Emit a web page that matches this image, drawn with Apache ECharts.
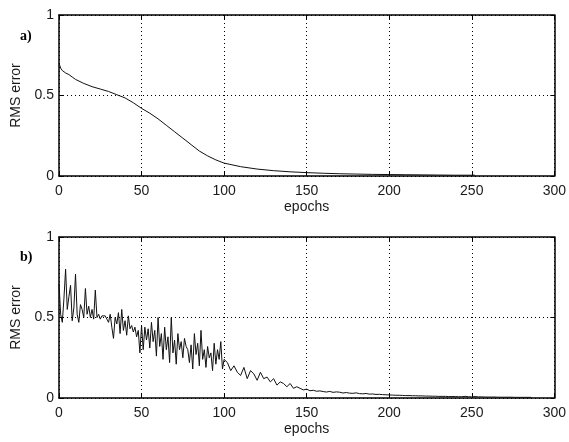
<!DOCTYPE html>
<html>
<head>
<meta charset="utf-8">
<script src="https://cdn.jsdelivr.net/npm/echarts@6/dist/echarts.min.js"></script>
<style>
html,body{margin:0;padding:0;background:#fff;}
#chart{width:569px;height:442px;}
</style>
</head>
<body>
<div id="chart"></div>
<script>
// Panel a) smooth RMS error curve
var aEpochs = [0,1,2,4,6,8,10,15,20,25,30,35,40,45,50,55,60,65,70,75,80,85,90,95,100,110,120,130,140,150,160,170,180,190,200,210,220,230,240,252];
var aRms = [0.70,0.67,0.655,0.64,0.63,0.615,0.60,0.575,0.555,0.54,0.525,0.505,0.485,0.455,0.42,0.39,0.355,0.315,0.275,0.235,0.195,0.155,0.125,0.10,0.08,0.058,0.043,0.033,0.026,0.021,0.017,0.014,0.012,0.010,0.009,0.008,0.007,0.006,0.005,0.005];

// Panel b) noisy RMS error: epochs 0..100 (every epoch)
var bEarly = [0.71,0.52,0.47,0.62,0.80,0.55,0.63,0.70,0.48,0.56,
  0.77,0.52,0.47,0.58,0.55,0.50,0.68,0.52,0.57,0.50,
  0.55,0.49,0.67,0.50,0.52,0.49,0.51,0.50,0.51,0.49,
  0.47,0.52,0.44,0.37,0.50,0.46,0.53,0.40,0.55,0.42,
  0.48,0.39,0.51,0.43,0.45,0.41,0.44,0.38,0.42,0.28,
  0.45,0.30,0.44,0.36,0.43,0.31,0.47,0.35,0.42,0.26,
  0.50,0.32,0.40,0.24,0.44,0.30,0.38,0.22,0.50,0.28,
  0.36,0.21,0.40,0.30,0.35,0.25,0.37,0.32,0.30,0.22,
  0.33,0.18,0.40,0.27,0.34,0.20,0.42,0.24,0.30,0.19,
  0.32,0.25,0.28,0.17,0.34,0.21,0.30,0.24,0.35,0.18,
  0.24];
// epochs 102..286 (every second epoch)
var bLate = [0.22,0.17,0.20,0.16,0.14,0.19,0.12,0.17,0.15,0.11,
  0.16,0.12,0.13,0.10,0.12,0.08,0.10,0.09,0.07,0.09,
  0.06,0.07,0.06,0.05,0.055,
  0.045,0.048,0.042,0.044,0.04,0.037,0.041,0.035,0.038,0.036,
  0.031,0.034,0.03,0.029,0.032,0.027,0.026,0.028,0.024,0.025,
  0.022,0.023,0.021,0.02,0.019,
  0.018,0.017,0.017,0.016,0.015,0.015,0.014,0.014,0.013,0.013,
  0.012,0.012,0.011,0.011,0.010,0.010,0.010,0.009,0.009,0.009,
  0.008,0.008,0.010,0.008,0.007,0.009,0.007,0.007,0.006,0.006,
  0.006,0.006,0.005,0.005,0.005,0.005,0.005,0.004,0.004,0.004,
  0.004,0.004,0.004];
var bLateStart = 102, bLateStep = 2;

var aData = aEpochs.map(function(e,i){return [e,aRms[i]];});
var bData = bEarly.map(function(v,i){return [i,v];}).concat(
  bLate.map(function(v,i){return [bLateStart + i*bLateStep, v];}));

var font = 'Liberation Sans, Arial, sans-serif';
var txt = '#1a1a1a';
var grids = [
  {left:59, top:15, width:500, height:161},
  {left:59, top:237, width:500, height:161}
];

function xAx(gi, pos, main){
  return {
    type:'value', gridIndex:gi, position:pos, min:0, max:300, interval:50,
    name: main ? 'epochs' : '', nameLocation:'middle', nameGap:24,
    nameTextStyle:{color:txt, fontSize:14, fontFamily:font},
    axisLine:{show:true, onZero:false, lineStyle:{color:'#000', width:1.5}},
    axisTick:{show:true, inside:true, length:4, lineStyle:{color:'#000'}},
    axisLabel:{show:main, color:txt, fontSize:14, fontFamily:font, margin:8},
    splitLine:{show:main, lineStyle:{color:'#000', type:[1,3], width:1}}
  };
}
function yAx(gi, pos, main){
  return {
    type:'value', gridIndex:gi, position:pos, min:0, max:1, interval:0.5,
    name: main ? 'RMS error' : '', nameLocation:'middle', nameGap:36, nameRotate:90,
    nameTextStyle:{color:txt, fontSize:14, fontFamily:font},
    axisLine:{show:true, onZero:false, lineStyle:{color:'#000', width:1.5}},
    axisTick:{show:true, inside:true, length:4, lineStyle:{color:'#000'}},
    axisLabel:{show:main, color:txt, fontSize:14, fontFamily:font, margin:5},
    splitLine:{show:main, lineStyle:{color:'#000', type:[1,3], width:1}}
  };
}

var chart = echarts.init(document.getElementById('chart'), null, {renderer:'canvas'});
chart.setOption({
  animation:false,
  backgroundColor:'#fff',
  grid: grids,
  xAxis:[xAx(0,'bottom',true), xAx(0,'top',false), xAx(1,'bottom',true), xAx(1,'top',false)],
  yAxis:[yAx(0,'left',true), yAx(0,'right',false), yAx(1,'left',true), yAx(1,'right',false)],
  graphic:[
    {type:'text', left:20, top:29, style:{text:'a)', font:'bold 14px "Liberation Serif", "Times New Roman", serif', fill:'#000'}},
    {type:'text', left:20, top:250, style:{text:'b)', font:'bold 14px "Liberation Serif", "Times New Roman", serif', fill:'#000'}}
  ],
  series:[
    {type:'line', xAxisIndex:0, yAxisIndex:0, data:aData, showSymbol:false, smooth:false,
     lineStyle:{color:'#111', width:1}},
    {type:'line', xAxisIndex:2, yAxisIndex:2, data:bData, showSymbol:false, smooth:false,
     lineStyle:{color:'#111', width:1}}
  ]
});
</script>
</body>
</html>
